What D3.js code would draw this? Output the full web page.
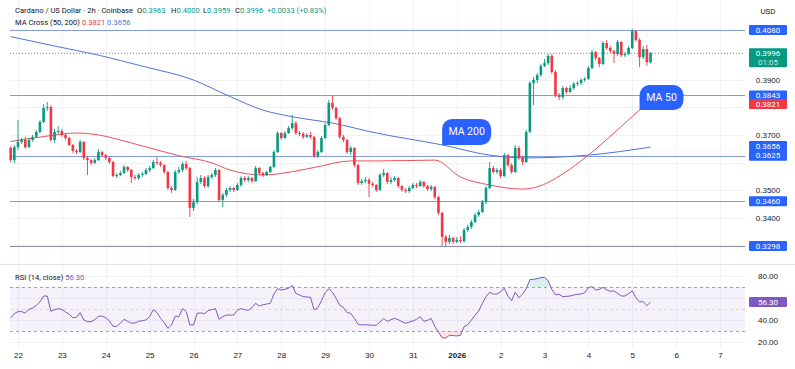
<!DOCTYPE html>
<html>
<head>
<meta charset="utf-8">
<title>Cardano / US Dollar - 2h - Coinbase</title>
<script src="https://cdn.jsdelivr.net/npm/d3@7"></script>
<style>
  body { margin: 0; background: #fff; }
  svg { display: block; font-family: Roboto, "Open Sans", sans-serif; }
  .axis text { fill: #131722; }
  .grid line { stroke: #f0f2f7; stroke-width: 1px; }
  .level { stroke: #849ddf; stroke-width: 1px; }
  .badge text { fill: #fff; text-anchor: middle; dominant-baseline: central; }
  .callout text { fill: #fff; text-anchor: middle; dominant-baseline: central; font-size: 10.5px; }
</style>
</head>
<body>
<svg></svg>
<script>
//begin: data
var startTime = Date.UTC(2025, 11, 21, 20); // first 2h candle
var firstOpen = 0.3653;

var closes = [
  .3609, .3656, .3675, .3682, .3656, .3682, .3693, .3711, .3747, .3798,
  .3801, .3682, .3711, .3714, .3700, .3689, .3664, .3642, .3638, .3675,
  .3617, .3609, .3599, .3609, .3638, .3627, .3617, .3602, .3551, .3555,
  .3562, .3584, .3573, .3548, .3544, .3555, .3559, .3573, .3580, .3602,
  .3599, .3591, .3566, .3508, .3501, .3566, .3573, .3595, .3580, .3436,
  .3457, .3530, .3544, .3515, .3548, .3555, .3573, .3465, .3483, .3501,
  .3508, .3501, .3519, .3544, .3537, .3544, .3533, .3580, .3562, .3555,
  .3566, .3584, .3638, .3707, .3689, .3707, .3725, .3743, .3707, .3704,
  .3693, .3700, .3693, .3624, .3638, .3689, .3736, .3816, .3798, .3761,
  .3693, .3682, .3638, .3653, .3591, .3526, .3533, .3537, .3523, .3519,
  .3501, .3555, .3562, .3530, .3537, .3544, .3515, .3501, .3497, .3508,
  .3519, .3515, .3530, .3515, .3504, .3512, .3475, .3418, .3331, .3313,
  .3327, .3313, .3320, .3316, .3356, .3367, .3385, .3410, .3421, .3457,
  .3508, .3580, .3566, .3573, .3551, .3627, .3591, .3566, .3653, .3617,
  .3602, .3711, .3888, .3899, .3917, .3950, .3960, .3986, .3928, .3845,
  .3837, .3870, .3856, .3870, .3885, .3888, .3899, .3903, .3942, .4000,
  .3979, .3957, .4033, .4015, .4004, .3993, .4037, .3989, .3993, .4015,
  .4076, .4044, .3982, .4011, .3963, .3996
];

var highs = [
  .3660, .3664, .3754, .3689, .3693, .3689, .3700, .3718, .3754, .3812,
  .3819, .3808, .3722, .3732, .3722, .3707, .3693, .3667, .3649, .3682,
  .3678, .3624, .3613, .3617, .3649, .3642, .3631, .3620, .3606, .3562,
  .3570, .3591, .3588, .3577, .3555, .3562, .3566, .3580, .3588, .3609,
  .3620, .3606, .3595, .3570, .3515, .3573, .3584, .3602, .3606, .3584,
  .3468, .3548, .3555, .3551, .3555, .3562, .3580, .3577, .3490, .3508,
  .3515, .3512, .3526, .3551, .3551, .3551, .3548, .3588, .3584, .3566,
  .3570, .3588, .3646, .3714, .3711, .3714, .3732, .3772, .3750, .3714,
  .3711, .3707, .3711, .3696, .3646, .3696, .3743, .3827, .3841, .3801,
  .3765, .3700, .3686, .3660, .3656, .3595, .3541, .3548, .3544, .3530,
  .3522, .3562, .3577, .3566, .3548, .3551, .3548, .3519, .3508, .3515,
  .3526, .3526, .3537, .3533, .3519, .3519, .3515, .3479, .3421, .3338,
  .3338, .3331, .3331, .3334, .3363, .3374, .3392, .3418, .3428, .3465,
  .3515, .3602, .3588, .3580, .3580, .3635, .3631, .3598, .3664, .3660,
  .3624, .3718, .3895, .3910, .3924, .3957, .3975, .3993, .3993, .3935,
  .3852, .3877, .3874, .3881, .3892, .3895, .3906, .3910, .3950, .4008,
  .4004, .3982, .4040, .4044, .4022, .4008, .4044, .4040, .4000, .4022,
  .4084, .4080, .4051, .4022, .4026, .4000
];

var lows = [
  .3602, .3598, .3646, .3667, .3649, .3653, .3675, .3689, .3707, .3743,
  .3787, .3675, .3671, .3704, .3693, .3682, .3660, .3635, .3631, .3635,
  .3609, .3555, .3591, .3595, .3606, .3620, .3609, .3595, .3548, .3544,
  .3551, .3559, .3566, .3526, .3537, .3537, .3548, .3555, .3566, .3577,
  .3591, .3584, .3559, .3501, .3490, .3497, .3559, .3566, .3573, .3403,
  .3425, .3450, .3522, .3508, .3508, .3541, .3548, .3457, .3439, .3475,
  .3494, .3494, .3497, .3512, .3530, .3530, .3526, .3530, .3555, .3548,
  .3551, .3562, .3580, .3635, .3682, .3686, .3704, .3718, .3700, .3696,
  .3686, .3689, .3686, .3617, .3617, .3635, .3686, .3732, .3790, .3754,
  .3686, .3675, .3631, .3627, .3584, .3519, .3519, .3526, .3475, .3512,
  .3494, .3497, .3548, .3522, .3522, .3530, .3508, .3494, .3490, .3490,
  .3504, .3508, .3512, .3508, .3497, .3497, .3468, .3410, .3298, .3298,
  .3305, .3305, .3309, .3309, .3309, .3349, .3360, .3381, .3403, .3418,
  .3450, .3504, .3559, .3559, .3544, .3548, .3584, .3559, .3562, .3609,
  .3591, .3598, .3707, .3808, .3888, .3910, .3946, .3953, .3920, .3837,
  .3827, .3830, .3848, .3852, .3863, .3877, .3881, .3892, .3899, .3939,
  .3971, .3946, .3953, .4008, .3997, .3960, .3986, .3982, .3982, .3989,
  .4011, .4037, .3946, .3975, .3950, .3959
];

var rsi = [
  41.8, 45.8, 47.6, 47.6, 46.4, 49.7, 50.9, 53.3, 56.4, 61.8,
  61.8, 47.9, 49.4, 50.3, 49.7, 47.3, 45.2, 42.1, 42.4, 46.7,
  40.0, 38.5, 38.5, 40.3, 43.3, 43.6, 42.1, 39.1, 34.2, 34.2,
  37.0, 40.6, 38.8, 37.0, 37.3, 38.8, 39.4, 40.0, 43.0, 49.4,
  46.7, 41.5, 37.6, 32.4, 35.5, 43.6, 43.0, 50.3, 47.6, 35.5,
  35.5, 46.1, 46.4, 45.8, 48.5, 49.4, 50.3, 40.6, 43.0, 44.5,
  44.5, 44.5, 49.1, 50.3, 49.4, 48.8, 51.2, 55.2, 52.7, 53.9,
  54.5, 55.2, 63.6, 68.5, 67.3, 67.9, 68.8, 71.5, 64.2, 62.7,
  61.2, 60.9, 60.6, 49.1, 51.2, 57.6, 64.8, 68.5, 65.2, 59.7,
  53.3, 51.5, 46.7, 46.1, 41.5, 36.1, 35.5, 35.8, 35.5, 35.2,
  35.2, 38.2, 41.2, 38.8, 40.3, 41.5, 40.3, 38.5, 37.0, 38.2,
  39.1, 40.6, 43.0, 38.8, 39.7, 41.5, 34.2, 28.8, 23.9, 23.6,
  26.1, 25.8, 25.5, 26.1, 33.9, 35.8, 40.0, 44.2, 48.2, 55.2,
  61.2, 65.2, 63.6, 63.6, 65.8, 68.8, 61.8, 57.6, 65.2, 60.3,
  63.6, 68.5, 76.7, 77.0, 77.6, 78.5, 78.8, 75.8, 67.9, 63.0,
  63.3, 61.2, 61.5, 61.8, 62.7, 63.3, 63.6, 64.8, 69.4, 70.3,
  67.3, 67.9, 69.7, 67.3, 66.1, 66.4, 64.2, 61.8, 61.8, 63.9,
  66.4, 60.3, 56.4, 56.7, 53.0, 56.3
];

// moving averages read at candle indexes
var ma50Idx = [0, 10, 18, 24, 33, 40, 46, 55, 60, 69, 77, 84, 93, 101, 116, 123, 131, 140, 144, 151, 158, 165, 172, 175];
var ma50Val = [.3676, .3696, .3707, .3700, .3671, .3646, .3625, .3599, .3573, .3555, .3567, .3585, .3606, .3606, .3609, .3548, .3519, .3504, .3512, .3559, .3627, .3707, .3790, .3821];
var ma200Idx = [0, 12, 24, 36, 50, 60, 69, 77, 88, 100, 118, 131, 141, 158, 175];
var ma200Val = [.4056, .4022, .3989, .3949, .3899, .3839, .3790, .3766, .3743, .3707, .3664, .3627, .3617, .3627, .3656];

var levels = [0.4080, 0.3843, 0.3625, 0.3460, 0.3298];
var priceGrid = [0.40, 0.39, 0.38, 0.37, 0.36, 0.35, 0.34, 0.33];
var priceLabels = [0.39, 0.37, 0.35, 0.34];   // the others sit under badges
var rsiGrid = [80, 60, 40, 20];
var rsiLabels = [80, 40, 20];
//end: data

//begin: layout conf.
var svgWidth = 795, svgHeight = 369,
  plotLeft = 10, plotRight = 745,
  axisX = 768,
  paneSplit = 264.5,
  step = 2 * 3600 * 1000,
  bodyWidth = 2.6;
var green = "#089981", red = "#f23645", blue = "#2962ff", purple = "#7e57c2";
//end: layout conf.

var x = d3.scaleUtc()
  .domain([Date.UTC(2025, 11, 22), Date.UTC(2026, 0, 7)])
  .range([18, 720]);
var y = d3.scaleLinear().domain([0.3298, 0.4080]).range([246, 30]);
var yR = d3.scaleLinear().domain([20, 80]).range([342, 276]);

function t(i) { return new Date(startTime + i * step); }
function px(v) { return Math.round(v) + 0.5; }

var candles = closes.map(function (c, i) {
  return { i: i, o: i ? closes[i - 1] : firstOpen, c: c, h: highs[i], l: lows[i] };
});

var svg = d3.select("svg").attr("width", svgWidth).attr("height", svgHeight);

// grid
var days = d3.utcDay.range(Date.UTC(2025, 11, 22), Date.UTC(2026, 0, 8));
var grid = svg.append("g").classed("grid", true);
grid.selectAll(".v").data(days).enter().append("line")
  .attr("x1", function (d) { return px(x(d)); }).attr("x2", function (d) { return px(x(d)); })
  .attr("y1", 0).attr("y2", 348);
grid.selectAll(".h").data(priceGrid).enter().append("line")
  .attr("x1", plotLeft).attr("x2", plotRight)
  .attr("y1", function (d) { return px(y(d)); }).attr("y2", function (d) { return px(y(d)); });
grid.selectAll(".hr").data(rsiGrid).enter().append("line")
  .attr("x1", plotLeft).attr("x2", plotRight)
  .attr("y1", function (d) { return px(yR(d)); }).attr("y2", function (d) { return px(yR(d)); });

svg.append("line")
  .attr("x1", 0).attr("x2", svgWidth).attr("y1", paneSplit).attr("y2", paneSplit)
  .style("stroke", "#e0e3eb");

// support / resistance levels
svg.selectAll(".level").data(levels).enter().append("line")
  .classed("level", true)
  .attr("x1", plotLeft).attr("x2", plotRight)
  .attr("y1", function (d) { return px(y(d)); }).attr("y2", function (d) { return px(y(d)); })
  .style("stroke", function (d, i) { return i === levels.length - 1 ? "#8a93a8" : null; });

// current price line
var last = candles[candles.length - 1];
svg.append("line")
  .attr("x1", plotLeft).attr("x2", plotRight)
  .attr("y1", px(y(last.c))).attr("y2", px(y(last.c)))
  .style("stroke", green).style("stroke-opacity", 0.7)
  .style("stroke-dasharray", "1,2");

// moving averages
var maLine = d3.line().curve(d3.curveMonotoneX);
svg.append("path")
  .attr("d", maLine(ma200Idx.map(function (k, j) { return [x(t(k)), y(ma200Val[j])]; })))
  .style("fill", "none").style("stroke", "#4f74d9").style("stroke-width", 1);
svg.append("path")
  .attr("d", maLine(ma50Idx.map(function (k, j) { return [x(t(k)), y(ma50Val[j])]; })))
  .style("fill", "none").style("stroke", "#e8525b").style("stroke-width", 1);

// candles
var cg = svg.append("g").classed("candles", true)
  .selectAll("g").data(candles).enter().append("g")
  .style("fill", function (d) { return d.c >= d.o ? green : red; })
  .style("stroke", function (d) { return d.c >= d.o ? green : red; });
cg.append("line")
  .attr("x1", function (d) { return x(t(d.i)); }).attr("x2", function (d) { return x(t(d.i)); })
  .attr("y1", function (d) { return y(d.h); }).attr("y2", function (d) { return y(d.l); })
  .style("stroke-width", 0.9);
cg.append("rect")
  .attr("x", function (d) { return x(t(d.i)) - bodyWidth / 2; })
  .attr("width", bodyWidth)
  .attr("y", function (d) { return y(Math.max(d.o, d.c)); })
  .attr("height", function (d) { return Math.max(1, Math.abs(y(d.o) - y(d.c))); })
  .style("stroke", "none");

// callouts
function callout(k, idx, vals, w, h, label) {
  var ax = x(t(k)), ay = y(vals[idx.indexOf(k)]), r = 10;
  var g = svg.append("g").classed("callout", true);
  g.append("path")
    .attr("d", "M" + ax + "," + ay +
      "V" + (ay - h + r) + "A" + r + "," + r + " 0 0 1 " + (ax + r) + "," + (ay - h) +
      "H" + (ax + w - r) + "A" + r + "," + r + " 0 0 1 " + (ax + w) + "," + (ay - h + r) +
      "V" + (ay - r) + "A" + r + "," + r + " 0 0 1 " + (ax + w - r) + "," + ay + "Z")
    .style("fill", blue);
  g.append("text").attr("x", ax + w / 2).attr("y", ay - h / 2).text(label);
}
callout(118, ma200Idx, ma200Val, 49, 26, "MA 200");
callout(172, ma50Idx, ma50Val, 44, 25, "MA 50");

// RSI pane
svg.append("rect")
  .attr("x", plotLeft).attr("width", plotRight - plotLeft)
  .attr("y", yR(70)).attr("height", yR(30) - yR(70))
  .style("fill", purple).style("fill-opacity", 0.08);
[70, 50, 30].forEach(function (v) {
  svg.append("line")
    .attr("x1", plotLeft).attr("x2", plotRight)
    .attr("y1", px(yR(v))).attr("y2", px(yR(v)))
    .style("stroke", "#8c8f9a").style("stroke-opacity", v === 50 ? 0.25 : 0.8)
    .style("stroke-dasharray", "3,3");
});
var defs = svg.append("defs");
defs.append("clipPath").attr("id", "ob").append("rect")
  .attr("x", 0).attr("y", 0).attr("width", svgWidth).attr("height", yR(70));
defs.append("clipPath").attr("id", "os").append("rect")
  .attr("x", 0).attr("y", yR(30)).attr("width", svgWidth).attr("height", svgHeight);
svg.append("path")
  .attr("clip-path", "url(#ob)")
  .attr("d", d3.area().x(function (d, i) { return x(t(i)); }).y0(yR(70)).y1(function (d) { return yR(d); })(rsi))
  .style("fill", green).style("fill-opacity", 0.15);
svg.append("path")
  .attr("clip-path", "url(#os)")
  .attr("d", d3.area().x(function (d, i) { return x(t(i)); }).y0(yR(30)).y1(function (d) { return yR(d); })(rsi))
  .style("fill", red).style("fill-opacity", 0.15);
svg.append("path")
  .attr("d", d3.line().x(function (d, i) { return x(t(i)); }).y(function (d) { return yR(d); })(rsi))
  .style("fill", "none").style("stroke", purple).style("stroke-width", 1);

// header
var fmt = d3.format(".4f");
var prev = candles[candles.length - 2].c;
var chg = last.c - prev;
var head = svg.append("g").style("font-size", "7.6px").style("fill", "#131722");
head.append("text").attr("x", 15).attr("y", 13).text("Cardano / US Dollar · 2h · Coinbase");
[["O", last.o, 137], ["H", last.h, 171], ["L", last.l, 203], ["C", last.c, 235]].forEach(function (p) {
  var tx = head.append("text").attr("x", p[2]).attr("y", 13);
  tx.append("tspan").text(p[0]);
  tx.append("tspan").style("fill", green).text(fmt(p[1]));
});
head.append("text").attr("x", 267).attr("y", 13).style("fill", green)
  .text("+" + fmt(chg) + " (+" + d3.format(".2f")(chg / prev * 100) + "%)");
var ma = head.append("text").attr("x", 15).attr("y", 25);
ma.append("tspan").text("MA Cross (50, 200) ");
ma.append("tspan").style("fill", red).text(fmt(ma50Val[ma50Val.length - 1]) + " ");
ma.append("tspan").style("fill", "#4f74d9").text(fmt(ma200Val[ma200Val.length - 1]));
var rh = head.append("text").attr("x", 15).attr("y", 280);
rh.append("tspan").text("RSI (14, close) ");
rh.append("tspan").style("fill", purple).text(d3.format(".2f")(rsi[rsi.length - 1]));

// axes
var timeAxis = d3.axisBottom(x).tickValues(days).tickSize(0).tickPadding(0)
  .tickFormat(function (d) { return d.getUTCMonth() === 0 && d.getUTCDate() === 1 ? "2026" : d.getUTCDate(); });
var ta = svg.append("g").classed("axis", true).attr("transform", "translate(0,352)").call(timeAxis);
ta.select(".domain").remove();
ta.selectAll("text").style("font-size", "8px").style("font-family", null)
  .style("font-weight", function (d) { return d.getUTCMonth() === 0 && d.getUTCDate() === 1 ? 700 : 400; });

var pa = svg.append("g").classed("axis", true).attr("transform", "translate(" + axisX + ",0)")
  .call(d3.axisRight(y).tickValues(priceLabels).tickSize(0).tickPadding(0).tickFormat(fmt));
pa.select(".domain").remove();
pa.selectAll("text").attr("text-anchor", "middle").style("font-size", "8px").style("font-family", null);

var ra = svg.append("g").classed("axis", true).attr("transform", "translate(" + axisX + ",0)")
  .call(d3.axisRight(yR).tickValues(rsiLabels).tickSize(0).tickPadding(0).tickFormat(d3.format(".2f")));
ra.select(".domain").remove();
ra.selectAll("text").attr("text-anchor", "middle").style("font-size", "8px").style("font-family", null);

svg.append("text").attr("x", axisX).attr("y", 14).attr("text-anchor", "middle")
  .style("font-size", "8px").style("fill", "#131722").text("USD");

// price badges
function badge(cy, text, fill, text2) {
  var h = text2 ? 19 : 10;
  var g = svg.append("g").classed("badge", true).style("font-size", "8px");
  g.append("rect").attr("x", 749).attr("width", 38).attr("y", cy - 5).attr("height", h)
    .attr("rx", 1).style("fill", fill);
  g.append("text").attr("x", axisX).attr("y", cy).text(text);
  if (text2) g.append("text").attr("x", axisX).attr("y", cy + 9).style("fill-opacity", 0.8).text(text2);
}
levels.forEach(function (v) { badge(y(v), fmt(v), blue); });
badge(y(ma200Val[ma200Val.length - 1]) - 1, fmt(ma200Val[ma200Val.length - 1]), blue);
badge(y(ma50Val[ma50Val.length - 1]) + 2.5, fmt(ma50Val[ma50Val.length - 1]), red);
badge(y(last.c), fmt(last.c), green, "01:05");
badge(yR(rsi[rsi.length - 1]), d3.format(".2f")(rsi[rsi.length - 1]), purple);
</script>
</body>
</html>
